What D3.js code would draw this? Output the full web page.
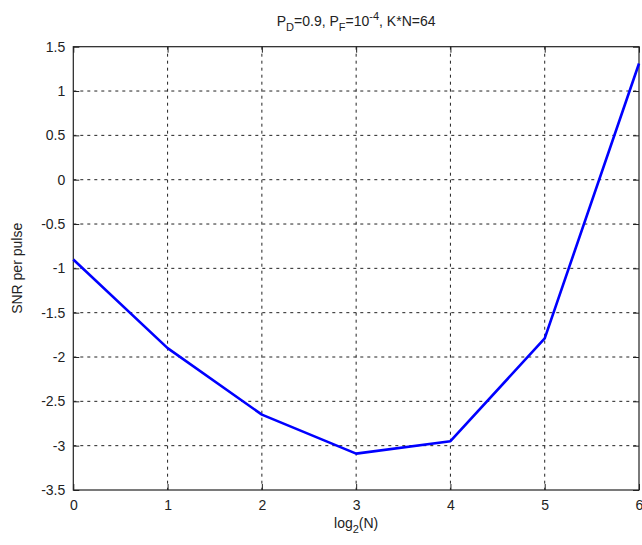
<!DOCTYPE html>
<html><head><meta charset="utf-8">
<script src="https://cdn.jsdelivr.net/npm/d3@7"></script>
<style>body{margin:0;background:#fff}svg{display:block}text{font-family:"Liberation Sans",Arial,sans-serif;fill:#222}</style>
</head><body><div id="c"></div>
<script>
const xValues = [0,1,2,3,4,5,6];
const snrValues = [-0.9,-1.9,-2.65,-3.09,-2.95,-1.79,1.31];
const xTicks = [0,1,2,3,4,5,6];
const yTicks = [-3.5,-3,-2.5,-2,-1.5,-1,-0.5,0,0.5,1,1.5];

const W=642,H=545;
const m={l:73.3,r:3,t:46.7,b:55};
const svg=d3.select("#c").append("svg").attr("width",W).attr("height",H);
const x=d3.scaleLinear().domain([0,6]).range([m.l,W-m.r]);
const y=d3.scaleLinear().domain([-3.5,1.5]).range([H-m.b,m.t]);
const pw=W-m.r-m.l, ph=H-m.b-m.t;

svg.append("rect").attr("x",m.l).attr("y",m.t).attr("width",pw).attr("height",ph).attr("fill","#fff");
const g=svg.append("g");
// grid
g.selectAll(".gx").data(xTicks.slice(1,-1)).enter().append("line")
 .attr("x1",d=>x(d)).attr("x2",d=>x(d)).attr("y1",m.t).attr("y2",H-m.b)
 .attr("stroke","#222").attr("stroke-width",1).attr("stroke-dasharray","3,4");
g.selectAll(".gy").data(yTicks.slice(1,-1)).enter().append("line")
 .attr("x1",m.l).attr("x2",W-m.r).attr("y1",d=>y(d)).attr("y2",d=>y(d))
 .attr("stroke","#222").attr("stroke-width",1).attr("stroke-dasharray","3,4");

// axes with inward ticks
const ax=d3.axisBottom(x).tickValues(xTicks).tickSize(-6).tickPadding(10).tickFormat(d3.format("d"));
const ay=d3.axisLeft(y).tickValues(yTicks).tickSize(-6).tickPadding(8).tickFormat(d=>String(d));
const axT=d3.axisTop(x).tickValues(xTicks).tickSize(-6).tickFormat("");
const ayR=d3.axisRight(y).tickValues(yTicks).tickSize(-6).tickFormat("");
function style(sel){sel.select(".domain").remove();sel.selectAll("line").attr("stroke","#222");sel.selectAll("text").attr("font-size",14).attr("fill","#222").attr("font-family","Liberation Sans, Arial, sans-serif");}
svg.append("g").attr("transform",`translate(0,${H-m.b})`).call(ax).call(style);
svg.append("g").attr("transform",`translate(${m.l},0)`).call(ay).call(style);
svg.append("g").attr("transform",`translate(0,${m.t})`).call(axT).call(style);
svg.append("g").attr("transform",`translate(${W-m.r},0)`).call(ayR).call(style);
svg.append("rect").attr("x",m.l).attr("y",m.t).attr("width",pw).attr("height",ph).attr("fill","none").attr("stroke","#222").attr("stroke-width",1.2);

// line
const line=d3.line().x((d,i)=>x(xValues[i])).y(d=>y(d));
svg.append("path").datum(snrValues).attr("d",line).attr("fill","none").attr("stroke","#0000ff").attr("stroke-width",2.6).attr("stroke-linejoin","round");

// labels
const t=svg.append("text").attr("x",x(3)).attr("y",26).attr("text-anchor","middle").attr("font-size",14);
t.append("tspan").text("P");
t.append("tspan").attr("font-size",11).attr("dy",5).text("D");
t.append("tspan").attr("dy",-5).text("=0.9, P");
t.append("tspan").attr("font-size",11).attr("dy",5).text("F");
t.append("tspan").attr("dy",-5).text("=10");
t.append("tspan").attr("font-size",11).attr("dy",-6).text("-4");
t.append("tspan").attr("dy",6).text(", K*N=64");

const xl=svg.append("text").attr("x",x(3)).attr("y",528).attr("text-anchor","middle").attr("font-size",14);
xl.append("tspan").text("log");
xl.append("tspan").attr("font-size",11).attr("dy",5).text("2");
xl.append("tspan").attr("dy",-5).text("(N)");

svg.append("text").attr("transform",`translate(22,${(m.t+H-m.b)/2}) rotate(-90)`).attr("text-anchor","middle").attr("font-size",14).text("SNR per pulse");
</script></body></html>
